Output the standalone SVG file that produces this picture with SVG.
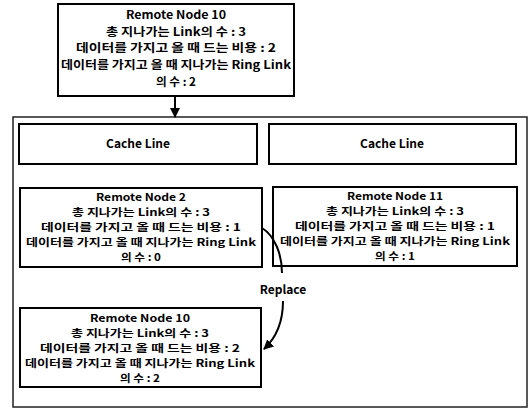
<svg xmlns="http://www.w3.org/2000/svg" width="531" height="411" viewBox="0 0 531 411">
<defs>
<style>
.box{fill:#fff;stroke:#000;stroke-width:2}
.cont{fill:none;stroke:#222;stroke-width:1.5}
.t{font-family:"Noto Sans CJK KR","Liberation Sans",sans-serif;font-size:10.3px;font-weight:bold;text-anchor:middle;fill:#000}
.tt{font-size:11.3px}
.l{font-size:12px}
.c{fill:none;stroke:#000;stroke-width:2}
</style>
<marker id="ah" viewBox="0 0 10 10" refX="9" refY="5" markerWidth="5" markerHeight="5" orient="auto">
<path d="M0,0 L10,5 L0,10 z" fill="#000"/>
</marker>
</defs>
<rect width="531" height="411" fill="#fff"/>
<g id="container">
<rect class="cont" x="13" y="117" width="514" height="290"/>
</g>
<g id="top-node">
<rect class="box" x="58" y="4" width="236" height="92"/>
<text class="t tt" x="176" y="19" textLength="100" lengthAdjust="spacingAndGlyphs">Remote Node 10</text>
<text class="t tt" x="176" y="36" textLength="140" lengthAdjust="spacingAndGlyphs">총 지나가는 Link의 수 : 3</text>
<text class="t tt" x="176" y="52" textLength="200" lengthAdjust="spacingAndGlyphs">데이터를 가지고 올 때 드는 비용 : 2</text>
<text class="t tt" x="176" y="69" textLength="230" lengthAdjust="spacingAndGlyphs">데이터를 가지고 올 때 지나가는 Ring Link</text>
<text class="t tt" x="176" y="86" textLength="40" lengthAdjust="spacingAndGlyphs">의 수 : 2</text>
</g>
<g id="cache-left">
<rect class="box" x="19" y="124" width="238" height="40"/>
<text class="t l" x="138" y="148">Cache Line</text>
</g>
<g id="cache-right">
<rect class="box" x="269" y="124" width="247" height="40"/>
<text class="t l" x="392" y="148">Cache Line</text>
</g>
<g id="node2">
<rect class="box" x="20" y="188" width="242" height="79"/>
<text class="t" x="141" y="201" textLength="90" lengthAdjust="spacingAndGlyphs">Remote Node 2</text>
<text class="t" x="141" y="216" textLength="138" lengthAdjust="spacingAndGlyphs">총 지나가는 Link의 수 : 3</text>
<text class="t" x="141" y="231" textLength="200" lengthAdjust="spacingAndGlyphs">데이터를 가지고 올 때 드는 비용 : 1</text>
<text class="t" x="141" y="246" textLength="230" lengthAdjust="spacingAndGlyphs">데이터를 가지고 올 때 지나가는 Ring Link</text>
<text class="t" x="141" y="261" textLength="40" lengthAdjust="spacingAndGlyphs">의 수 : 0</text>
</g>
<g id="node11">
<rect class="box" x="273" y="187" width="244" height="79"/>
<text class="t" x="395" y="200" textLength="96" lengthAdjust="spacingAndGlyphs">Remote Node 11</text>
<text class="t" x="395" y="215" textLength="138" lengthAdjust="spacingAndGlyphs">총 지나가는 Link의 수 : 3</text>
<text class="t" x="395" y="230" textLength="200" lengthAdjust="spacingAndGlyphs">데이터를 가지고 올 때 드는 비용 : 1</text>
<text class="t" x="395" y="245" textLength="230" lengthAdjust="spacingAndGlyphs">데이터를 가지고 올 때 지나가는 Ring Link</text>
<text class="t" x="395" y="260" textLength="40" lengthAdjust="spacingAndGlyphs">의 수 : 1</text>
</g>
<g id="node10-new">
<rect class="box" x="20" y="308" width="241" height="79"/>
<text class="t" x="140" y="322" textLength="100" lengthAdjust="spacingAndGlyphs">Remote Node 10</text>
<text class="t" x="140" y="337" textLength="138" lengthAdjust="spacingAndGlyphs">총 지나가는 Link의 수 : 3</text>
<text class="t" x="140" y="352" textLength="200" lengthAdjust="spacingAndGlyphs">데이터를 가지고 올 때 드는 비용 : 2</text>
<text class="t" x="140" y="367" textLength="230" lengthAdjust="spacingAndGlyphs">데이터를 가지고 올 때 지나가는 Ring Link</text>
<text class="t" x="140" y="382" textLength="40" lengthAdjust="spacingAndGlyphs">의 수 : 2</text>
</g>
<g id="connectors">
<line class="c" x1="175" y1="96" x2="175" y2="117" marker-end="url(#ah)"/>
<path class="c" d="M262,228 C275,236 282,255 282,273"/>
<text class="t l" x="283" y="294">Replace</text>
<path class="c" d="M283,301 C283,320 277,337 264,349" marker-end="url(#ah)"/>
</g>
</svg>
